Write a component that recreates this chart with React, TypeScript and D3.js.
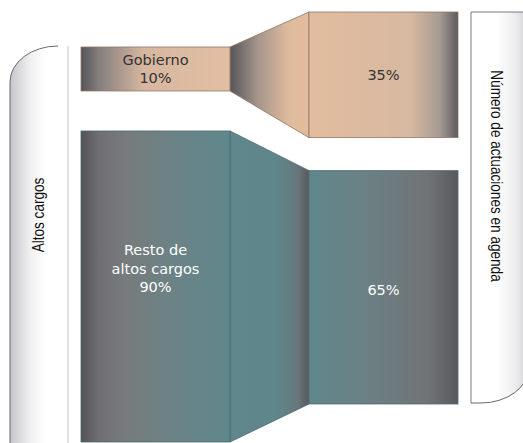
import React from "react";
import * as d3 from "d3";

const leftLabels: string[][] = [["Gobierno"], ["Resto de", "altos cargos"]];
const leftValues: number[] = [10, 90];
const rightValues: number[] = [35, 65];
const groupKeys: string[] = ["gob", "resto"];
const leftAxisTitle = "Altos cargos";
const rightAxisTitle = "Número de actuaciones en agenda";

const W = 523;
const H = 443;

const textColors: Record<string, string> = { gob: "#333333", resto: "#ffffff" };
const strokeColors: Record<string, string> = { gob: "#8f7868", resto: "#4e6a6e" };

type Stop = [number, string];
const gradients: Record<string, Stop[]> = {
  gobL: [[0, "#545458"], [0.12, "#857e7e"], [0.42, "#d6b7a0"], [1, "#e2bfa2"]],
  gobLink: [[0, "#55555a"], [0.35, "#a5958b"], [0.75, "#dfbb9d"], [1, "#e3bb9c"]],
  gobR: [[0, "#e2bc9e"], [0.68, "#d7b9a1"], [0.88, "#a59a92"], [1, "#5b5a5f"]],
  restoL: [[0, "#545458"], [0.12, "#6f6f73"], [0.3, "#777b7c"], [0.65, "#6a8387"], [1, "#5f888c"]],
  restoLink: [[0, "#5f888c"], [0.6, "#5f868a"], [0.86, "#67777b"], [1, "#58585d"]],
  restoR: [[0, "#5f878b"], [0.4, "#6b8084"], [0.8, "#707376"], [1, "#59585d"]],
  panelL: [[0, "#c6c6ca"], [0.35, "#f0f0f2"], [0.6, "#ffffff"], [1, "#ffffff"]],
  panelR: [[0, "#ffffff"], [0.4, "#ffffff"], [0.7, "#ededef"], [1, "#c4c4c8"]],
};

export default function App() {
  const leftX0 = 81, leftX1 = 230, rightX0 = 309, rightX1 = 458;
  const leftTop = 47, leftGap = 40;
  const rightTop = 12, rightGap = 33;

  const hLeft = d3.scaleLinear().domain([0, 100]).range([10.6, 344.4]);
  const hRight = d3.scaleLinear().domain([0, 100]).range([0, 359]);

  const leftNodes: { y0: number; y1: number }[] = [];
  let y = leftTop;
  leftValues.forEach((v) => {
    const h = hLeft(v);
    leftNodes.push({ y0: y, y1: y + h });
    y += h + leftGap;
  });
  const rightNodes: { y0: number; y1: number }[] = [];
  y = rightTop;
  rightValues.forEach((v) => {
    const h = hRight(v);
    rightNodes.push({ y0: y, y1: y + h });
    y += h + rightGap;
  });

  const line = d3.line<[number, number]>();
  const fontBox = "'DejaVu Sans', Verdana, sans-serif";
  const fontSide = "'Liberation Sans', Arial, sans-serif";

  // panels
  const lpx0 = 10, lpx1 = 68, lpTop = 46;
  const rpx0 = 471, rpx1 = 529, rpTop = 12, rpBot = 403;
  const rx = 48, ry = 36;
  const leftPanelFill = `M${lpx1},${H + 5} L${lpx1},${lpTop} L${lpx0 + rx},${lpTop} A${rx},${ry} 0 0 0 ${lpx0},${lpTop + ry} L${lpx0},${H + 5} Z`;
  const leftPanelDark = `M${lpx0 + rx},${lpTop} A${rx},${ry} 0 0 0 ${lpx0},${lpTop + ry} L${lpx0},${H + 5}`;
  const rightPanelFill = `M${rpx0},${rpTop} L${rpx1 + 5},${rpTop} L${rpx1},${rpBot - ry} A${rx},${ry} 0 0 1 ${rpx1 - rx},${rpBot} L${rpx0},${rpBot} Z`;

  return (
    <div style={{ position: "absolute", left: 0, top: 0 }}>
      <svg width={W} height={H} style={{ display: "block", background: "#fff" }}>
        <defs>
          {Object.entries(gradients).map(([id, stops]) => (
            <linearGradient key={id} id={id} x1="0" y1="0" x2="1" y2="0">
              {stops.map(([o, c], i) => (
                <stop key={i} offset={o} stopColor={c} />
              ))}
            </linearGradient>
          ))}
        </defs>

        {/* left side panel */}
        <path d={leftPanelFill} fill="url(#panelL)" stroke="none" />
        <path d={leftPanelDark} fill="none" stroke="#6a6a6e" strokeWidth={1} />
        <line x1={lpx1} x2={lpx1} y1={lpTop} y2={H} stroke="#c4c4c4" strokeWidth={1} />
        <text
          transform={`translate(${39},${215}) rotate(-90) scale(0.85,1)`}
          textAnchor="middle"
          dominantBaseline="central"
          fontFamily={fontSide}
          fontSize={16}
          fill="#111"
        >
          {leftAxisTitle}
        </text>

        {/* right side panel */}
        <path d={rightPanelFill} fill="url(#panelR)" stroke="none" />
        <path
          d={`M${rpx0},${rpBot} L${rpx0},${rpTop} L${W},${rpTop}`}
          fill="none"
          stroke="#7a7a7e"
          strokeWidth={1}
        />
        <path
          d={`M${rpx0},${rpBot} L${rpx1 - rx},${rpBot} A${rx},${ry} 0 0 0 ${rpx1},${rpBot - ry}`}
          fill="none"
          stroke="#6a6a6e"
          strokeWidth={1}
        />
        <text
          transform={`translate(${496},${176}) rotate(90) scale(0.85,1)`}
          textAnchor="middle"
          dominantBaseline="central"
          fontFamily={fontSide}
          fontSize={16}
          fill="#111"
        >
          {rightAxisTitle}
        </text>

        {/* links */}
        {groupKeys.map((k, i) => {
          const L = leftNodes[i], R = rightNodes[i];
          const pts: [number, number][] = [
            [leftX1, L.y0],
            [rightX0, R.y0],
            [rightX0, R.y1],
            [leftX1, L.y1],
          ];
          return (
            <path
              key={"link" + k}
              d={line(pts) + "Z"}
              fill={`url(#${k}Link)`}
              stroke={strokeColors[k]}
              strokeWidth={0.8}
            />
          );
        })}

        {/* left nodes */}
        {groupKeys.map((k, i) => {
          const n = leftNodes[i];
          const lines = [...leftLabels[i], `${leftValues[i]}%`];
          const lh = 18.5;
          const cy = i === 0 ? (n.y0 + n.y1) / 2 : n.y0 + 138;
          return (
            <g key={"ln" + k}>
              <rect
                x={leftX0}
                y={n.y0}
                width={leftX1 - leftX0}
                height={n.y1 - n.y0}
                fill={`url(#${k}L)`}
                stroke={strokeColors[k]}
                strokeWidth={0.8}
              />
              {lines.map((t, j) => (
                <text
                  key={j}
                  x={(leftX0 + leftX1) / 2}
                  y={cy + (j - (lines.length - 1) / 2) * lh}
                  textAnchor="middle"
                  dominantBaseline="central"
                  fontFamily={fontBox}
                  fontSize={14.5}
                  fill={textColors[k]}
                >
                  {t}
                </text>
              ))}
            </g>
          );
        })}

        {/* right nodes */}
        {groupKeys.map((k, i) => {
          const n = rightNodes[i];
          return (
            <g key={"rn" + k}>
              <rect
                x={rightX0}
                y={n.y0}
                width={rightX1 - rightX0}
                height={n.y1 - n.y0}
                fill={`url(#${k}R)`}
                stroke={strokeColors[k]}
                strokeWidth={0.8}
              />
              <text
                x={(rightX0 + rightX1) / 2}
                y={(n.y0 + n.y1) / 2 + (i === 1 ? 3 : 0)}
                textAnchor="middle"
                dominantBaseline="central"
                fontFamily={fontBox}
                fontSize={14.5}
                fill={textColors[k]}
              >
                {`${rightValues[i]}%`}
              </text>
            </g>
          );
        })}
      </svg>
    </div>
  );
}
